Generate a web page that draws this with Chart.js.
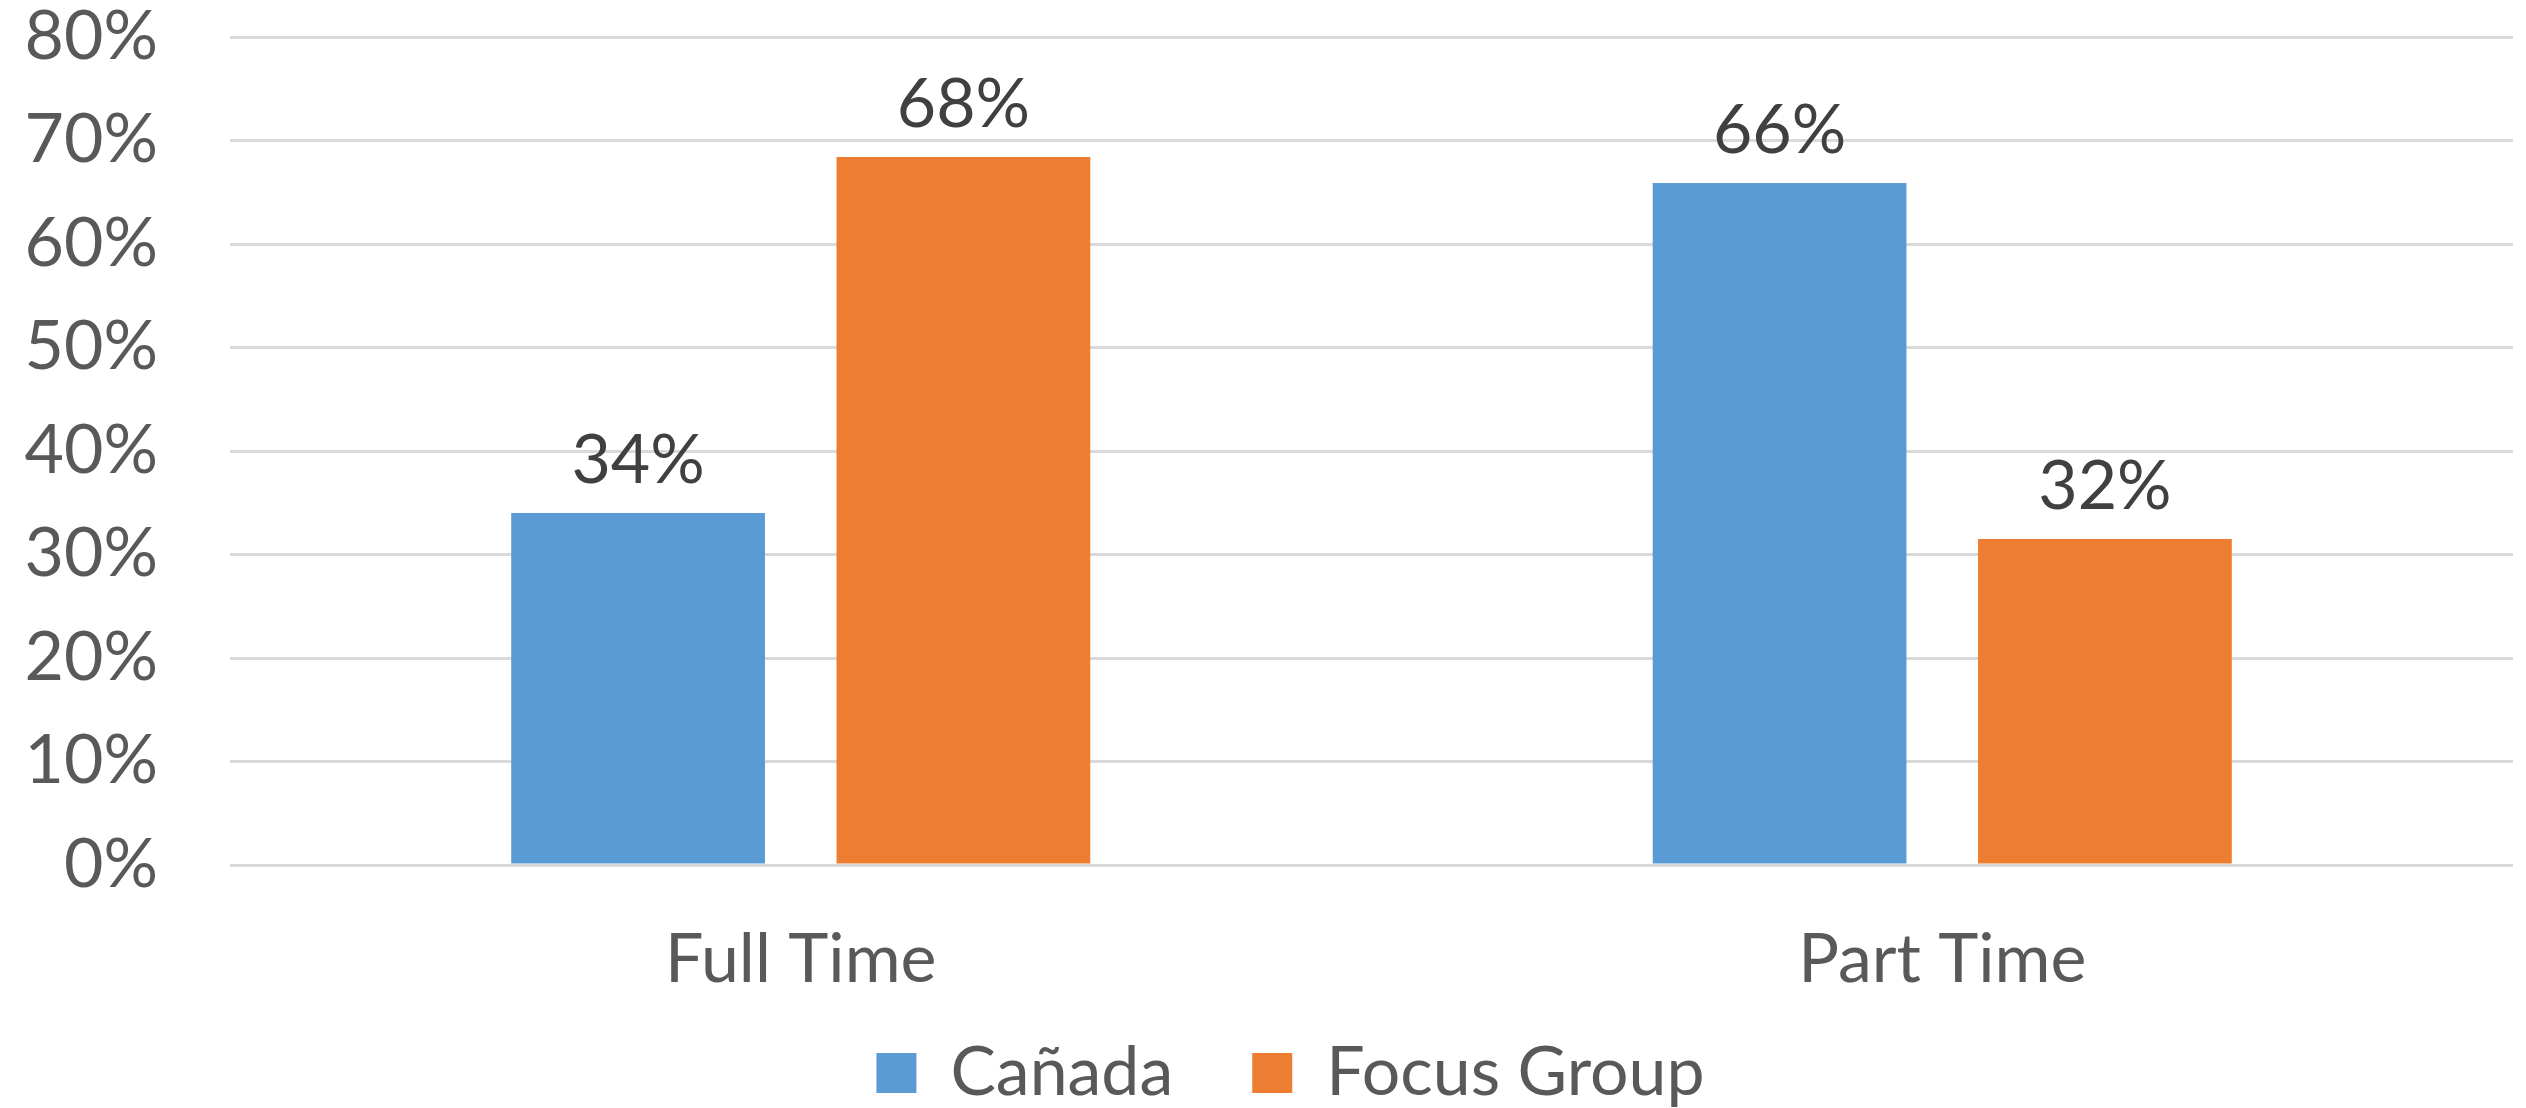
<!DOCTYPE html>
<html>
<head>
<meta charset="utf-8">
<script src="https://cdn.jsdelivr.net/npm/chart.js@4/dist/chart.umd.min.js"></script>
<style>
  html, body { margin: 0; padding: 0; background: #ffffff; }
  #wrap { width: 2526px; height: 1108px; }
</style>
</head>
<body>
<div id="wrap"><canvas id="c" width="2526" height="1108"></canvas></div>
<script>
const categories = ['Full Time', 'Part Time'];
const seriesNames = ['Cañada', 'Focus Group'];
const canadaValues = [0.34, 0.659];
const focusGroupValues = [0.684, 0.315];
const yTickValues = [0, 0.1, 0.2, 0.3, 0.4, 0.5, 0.6, 0.7, 0.8];

const FONT = 'Lato';
const pct = v => Math.round(v * 100) + '%';

const dataLabels = {
  id: 'dataLabels',
  afterDatasetsDraw(chart) {
    const ctx = chart.ctx;
    ctx.save();
    ctx.font = '68px ' + FONT;
    ctx.fillStyle = '#404040';
    ctx.textAlign = 'center';
    ctx.textBaseline = 'alphabetic';
    chart.data.datasets.forEach((ds, i) => {
      chart.getDatasetMeta(i).data.forEach((el, j) => {
        ctx.fillText(pct(ds.data[j]), el.x, el.y - 30);
      });
    });
    ctx.restore();
  }
};

const legendShift = {
  id: 'legendShift',
  afterLayout(chart) {
    if (chart.legend) { chart.legend.left += 34; chart.legend.right += 34; }
  }
};

new Chart(document.getElementById('c'), {
  type: 'bar',
  data: {
    labels: categories,
    datasets: [
      { label: seriesNames[0], data: canadaValues, backgroundColor: '#5B9BD5', borderWidth: 0 },
      { label: seriesNames[1], data: focusGroupValues, backgroundColor: '#ED7D31', borderWidth: 0 }
    ]
  },
  options: {
    responsive: false,
    devicePixelRatio: 1,
    animation: false,
    datasets: { bar: { categoryPercentage: 0.57, barPercentage: 0.78 } },
    layout: { padding: { top: 37, right: 13, bottom: -9, left: 0 } },
    plugins: {
      title: { display: false },
      tooltip: { enabled: false },
      legend: {
        position: 'bottom',
        labels: {
          boxWidth: 40, boxHeight: 40, padding: 79,
          color: '#595959',
          font: { family: FONT, size: 68 }
        }
      }
    },
    scales: {
      x: {
        grid: { display: false, drawTicks: false },
        border: { display: false },
        ticks: { color: '#595959', font: { family: FONT, size: 68 }, padding: 54 },
        afterFit(s) { s.height = 95; s._computeLabelArea = () => undefined; }
      },
      y: {
        min: 0, max: 0.8,
        afterBuildTicks(s) { s.ticks = yTickValues.map(v => ({ value: v })); },
        grid: { color: '#D9D9D9', lineWidth: 3, drawTicks: true, tickLength: 72, tickColor: 'rgba(0,0,0,0)' },
        border: { display: false },
        ticks: {
          color: '#595959',
          font: { family: FONT, size: 68, lineHeight: 1 },
          padding: 0,
          callback: v => pct(v)
        },
        afterFit(s) { s.width = 230; }
      }
    }
  },
  plugins: [dataLabels, legendShift]
});
</script>
</body>
</html>
